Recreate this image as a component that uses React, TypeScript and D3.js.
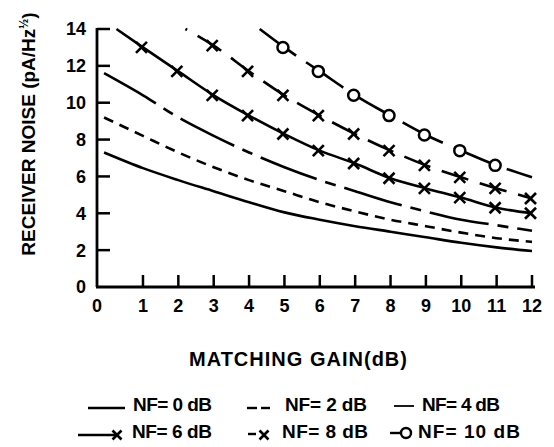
import React from "react";
import * as d3 from "d3";

const xTicks = [1, 2, 3, 4, 5, 6, 7, 8, 9, 10, 11, 12];
const yTicks = [0, 2, 4, 6, 8, 10, 12, 14];

const gainLow = [-0.1, 1, 2, 3, 4, 5, 6, 7, 8, 9, 10, 11, 12];
const nf0 = [7.3, 6.45, 5.8, 5.2, 4.6, 4.05, 3.65, 3.3, 3.0, 2.7, 2.4, 2.15, 1.95];
const nf2 = [9.2, 8.2, 7.3, 6.5, 5.8, 5.2, 4.6, 4.1, 3.65, 3.3, 2.95, 2.65, 2.45];
const nf4 = [11.6, 10.4, 9.2, 8.2, 7.3, 6.5, 5.8, 5.2, 4.6, 4.1, 3.65, 3.35, 3.05];
const gain6 = [0.25, 1, 2, 3, 4, 5, 6, 7, 8, 9, 10, 11, 12];
const nf6 = [14.0, 13.0, 11.7, 10.4, 9.3, 8.3, 7.4, 6.7, 5.9, 5.35, 4.85, 4.3, 4.0];
const gain8 = [2.2, 3, 4, 5, 6, 7, 8, 9, 10, 11, 12];
const nf8 = [14.0, 13.1, 11.7, 10.4, 9.3, 8.3, 7.4, 6.6, 5.95, 5.35, 4.8];
const gain10 = [4.3, 5, 6, 7, 8, 9, 10, 11, 12];
const nf10 = [14.0, 13.0, 11.7, 10.4, 9.3, 8.25, 7.4, 6.6, 5.95];

const marker6 = [1, 2, 3, 4, 5, 6, 7, 8, 9, 10, 11, 12];
const marker8 = [3, 4, 5, 6, 7, 8, 9, 10, 11, 12];
const marker10 = [5, 6, 7, 8, 9, 10, 11];

const legendLabels = ["NF= 0 dB", "NF= 2 dB", "NF= 4 dB", "NF= 6 dB", "NF= 8 dB", "NF= 10 dB"];

const FONT = "'Liberation Sans', Arial, sans-serif";

const x = d3.scaleLinear().domain([-0.3, 12]).range([97, 532]);
const y = d3.scaleLinear().domain([0, 14]).range([287, 29]);

const line = d3
  .line<[number, number]>()
  .x((d) => x(d[0]))
  .y((d) => y(d[1]))
  .curve(d3.curveMonotoneX);

const pts = (g: number[], v: number[]) => g.map((gg, i) => [gg, v[i]] as [number, number]);

function XMark({ cx, cy, s = 5.5 }: { cx: number; cy: number; s?: number }) {
  return (
    <g stroke="#000" strokeWidth={2.6}>
      <line x1={cx - s} y1={cy - s} x2={cx + s} y2={cy + s} />
      <line x1={cx - s} y1={cy + s} x2={cx + s} y2={cy - s} />
    </g>
  );
}

function valAt(g: number[], v: number[], gg: number) {
  const i = g.indexOf(gg);
  return v[i];
}

export default function App() {
  const sw = 2.6;
  return (
    <svg width={554} height={447} style={{ position: "absolute", left: 0, top: 0, background: "#fff" }}>
      <rect width={554} height={447} fill="#fff" />
      {/* axes */}
      <line x1={97} y1={y(14) - 1} x2={97} y2={y(0)} stroke="#000" strokeWidth={2.8} />
      <line x1={96} y1={y(0)} x2={535} y2={y(0)} stroke="#000" strokeWidth={2.8} />
      {yTicks.filter((t) => t > 0).map((t) => (
        <line key={t} x1={97} x2={110} y1={y(t)} y2={y(t)} stroke="#000" strokeWidth={2.5} />
      ))}
      {xTicks.map((t) => (
        <line key={t} x1={x(t)} x2={x(t)} y1={y(0)} y2={y(0) - 12} stroke="#000" strokeWidth={2.5} />
      ))}
      {yTicks.map((t) => (
        <text key={t} x={86} y={y(t)} dy="0.36em" textAnchor="end" fontFamily={FONT} fontWeight="bold" fontSize={18}>
          {t}
        </text>
      ))}
      <text x={97} y={312} textAnchor="middle" fontFamily={FONT} fontWeight="bold" fontSize={18}>0</text>
      {xTicks.map((t) => (
        <text key={t} x={x(t)} y={312} textAnchor="middle" fontFamily={FONT} fontWeight="bold" fontSize={18}>
          {t}
        </text>
      ))}
      <text x={298} y={366} textAnchor="middle" fontFamily={FONT} fontWeight="bold" fontSize={20} textLength={218}>
        MATCHING GAIN(dB)
      </text>
      <text transform="translate(35,134) rotate(-90)" textAnchor="middle" fontFamily={FONT} fontWeight="bold" fontSize={19}>
        RECEIVER NOISE (pA/Hz
        <tspan fontSize={12} dy={-7}>½</tspan>
        <tspan dy={7}>)</tspan>
      </text>

      {/* curves */}
      <path d={line(pts(gainLow, nf0)) || ""} fill="none" stroke="#000" strokeWidth={sw} />
      <path d={line(pts(gainLow, nf2)) || ""} fill="none" stroke="#000" strokeWidth={sw} strokeDasharray="10,7" />
      <path d={line(pts(gainLow, nf4)) || ""} fill="none" stroke="#000" strokeWidth={sw} strokeDasharray="60,9,11,9" />
      <path d={line(pts(gain6, nf6)) || ""} fill="none" stroke="#000" strokeWidth={sw} />
      <path d={line(pts(gain8, nf8)) || ""} fill="none" stroke="#000" strokeWidth={sw} strokeDasharray="28,12" strokeDashoffset={-14} />
      <path d={line(pts(gain10, nf10)) || ""} fill="none" stroke="#000" strokeWidth={sw} strokeDasharray="45,12" />

      {marker6.map((g) => (
        <XMark key={"a" + g} cx={x(g) - 1.5} cy={y(valAt(gain6, nf6, g))} />
      ))}
      {marker8.map((g) => (
        <XMark key={"b" + g} cx={x(g) - 1.5} cy={y(valAt(gain8, nf8, g))} />
      ))}
      {marker10.map((g) => (
        <circle key={"c" + g} cx={x(g) - 1.5} cy={y(valAt(gain10, nf10, g))} r={5.5} fill="#fff" stroke="#000" strokeWidth={2.5} />
      ))}

      {/* legend */}
      <g fontFamily={FONT} fontWeight="bold" fontSize={19}>
        <line x1={88} x2={125} y1={408} y2={408} stroke="#000" strokeWidth={2.4} />
        <text x={133} y={411} textLength={79}>{legendLabels[0]}</text>
        <line x1={247} x2={257} y1={408} y2={408} stroke="#000" strokeWidth={2.4} />
        <line x1={261} x2={270} y1={408} y2={408} stroke="#000" strokeWidth={2.4} />
        <text x={285} y={411} textLength={82}>{legendLabels[1]}</text>
        <line x1={394} x2={414} y1={406} y2={406} stroke="#000" strokeWidth={1.8} />
        <text x={422} y={411} textLength={78}>{legendLabels[2]}</text>

        <line x1={78} x2={118} y1={435} y2={435} stroke="#000" strokeWidth={2.4} />
        <XMark cx={117} cy={435} s={4.5} />
        <text x={132} y={438} textLength={80}>{legendLabels[3]}</text>
        <line x1={248} x2={256} y1={434} y2={434} stroke="#000" strokeWidth={2.4} />
        <XMark cx={264} cy={435} s={4.5} />
        <text x={282} y={438} textLength={86}>{legendLabels[4]}</text>
        <line x1={390} x2={406} y1={433} y2={433} stroke="#000" strokeWidth={2.4} />
        <circle cx={406} cy={433} r={5} fill="#fff" stroke="#000" strokeWidth={2.4} />
        <text x={418} y={438} textLength={102}>{legendLabels[5]}</text>
      </g>
    </svg>
  );
}
